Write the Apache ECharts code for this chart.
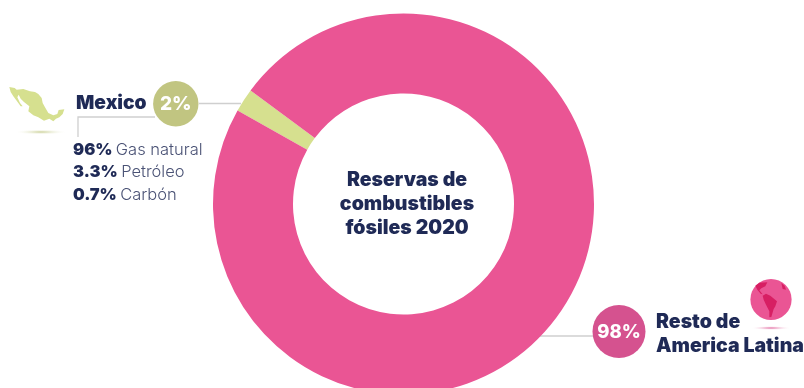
<!DOCTYPE html>
<html><head><meta charset="utf-8">
<style>html,body{margin:0;padding:0;background:#fff}#c{width:804px;height:388px}</style>
<script src="https://cdn.jsdelivr.net/npm/echarts@6/dist/echarts.min.js"></script>
</head><body><div id="c"></div>
<script>
// Fossil fuel reserves share, 2020
const regions = ['Mexico', 'Resto de America Latina'];
const shares = [2, 98];
const sliceColors = ['#d6e08f', '#ea5594'];
const mexicoMix = [['96%', 'Gas natural'], ['3.3%', 'Petróleo'], ['0.7%', 'Carbón']];
const centerTitle = 'Reservas de\ncombustibles\nfósiles 2020';

const navy = '#1f2a56';
const font = 'Inter';
const cx = 403.5, cy = 204;

// Icon outlines, in a 3x local grid
const mexicoOutline = [[28,27],[44,30],[50,35],[70,33],[90,40],[105,42],[115,48],[125,60],[128,75],[135,88],[145,105],[160,112],[172,108],[176,96],[193,94],[188,108],[178,118],[168,122],[160,130],[148,122],[132,128],[115,118],[100,112],[85,100],[88,85],[72,72],[62,62],[56,50],[52,58],[60,75],[68,85],[62,85],[50,68],[40,55],[32,42]];
const globeLands = [
  [[40,38],[52,29],[76,28],[70,40],[58,46],[52,52],[62,64],[56,62],[46,50]],
  [[62,68],[72,62],[85,68],[105,85],[100,100],[95,108],[88,132],[82,133],[82,115],[72,95],[65,80]],
  [[118,30],[128,38],[132,50],[122,48]]
];

const chart = echarts.init(document.getElementById('c'), null, {renderer: 'canvas'});

function leader(points) {
  return {type: 'polyline', silent: true, shape: {points}, style: {stroke: '#cfcfcf', lineWidth: 1.3, fill: null}};
}
function shadow(x, y, rx, c) {
  return {type: 'circle', silent: true, x, y, scaleX: 1, scaleY: 0.1, shape: {r: rx},
    style: {fill: new echarts.graphic.RadialGradient(0.5, 0.5, 0.5, [{offset: 0, color: c}, {offset: 1, color: 'rgba(255,255,255,0)'}])}};
}
function txt(x, y, text, size, weight, align, color, lh) {
  return {type: 'text', silent: true, style: {x, y, text, fontFamily: font, fontSize: size, fontWeight: weight,
    fill: color || navy, align: align || 'left', verticalAlign: 'middle', lineHeight: lh}};
}
function icon(points, x, y, fill) {
  return {type: 'polygon', silent: true, x, y, scaleX: 1 / 3, scaleY: 1 / 3, shape: {points}, style: {fill}};
}

const graphics = [
  leader([[199, 103.5], [241, 103.5]]),
  leader([[155, 117], [78, 117], [78, 137]]),
  leader([[537, 336], [594, 336]]),
  {type: 'circle', silent: true, shape: {cx: 175.8, cy: 103.8, r: 22.7}, style: {fill: '#c1c581'}},
  txt(175.8, 104.5, shares[0] + '%', 19, 800, 'center', '#fff'),
  txt(76, 103, regions[0], 19.2, 900),
  {type: 'circle', silent: true, shape: {cx: 619, cy: 331.5, r: 26.5}, style: {fill: '#d5528f'}},
  txt(619, 332.5, shares[1] + '%', 18.5, 800, 'center', '#fff'),
  txt(656, 334, 'Resto de\nAmerica Latina', 19.5, 900, 'left', navy, 24),
  icon(mexicoOutline, 0, 78, '#d6e08f'),
  shadow(41, 132, 26, '#c9cf94'),
  {type: 'circle', silent: true, shape: {cx: 771, cy: 299.5, r: 20.6}, style: {fill: '#ea5594'}},
  ...globeLands.map(p => icon(p, 742, 273, '#d71f63')),
  shadow(771, 328, 20, '#e0609a')
];
mexicoMix.forEach((row, i) => {
  graphics.push({type: 'text', silent: true, style: {x: 73, y: 150 + i * 22.5,
    text: `{b|${row[0]}} {n|${row[1]}}`, verticalAlign: 'middle',
    rich: {b: {fontFamily: font, fontSize: 16.5, fontWeight: 900, fill: navy},
           n: {fontFamily: font, fontSize: 16.5, fontWeight: 300, fill: '#4a5275'}}}});
});

chart.setOption({
  animation: false,
  backgroundColor: '#fff',
  title: {text: centerTitle, left: 402, top: 199, textAlign: 'center', textVerticalAlign: 'middle',
    textStyle: {fontFamily: font, fontSize: 19.5, fontWeight: 900, color: navy, lineHeight: 24}},
  series: [{
    type: 'pie', silent: true, clockwise: true, startAngle: 150.6,
    center: [cx, cy], radius: [110.5, 190.5],
    label: {show: false}, labelLine: {show: false},
    data: regions.map((name, i) => ({name, value: shares[i], itemStyle: {color: sliceColors[i]}}))
  }],
  graphic: graphics
});
</script></body></html>
